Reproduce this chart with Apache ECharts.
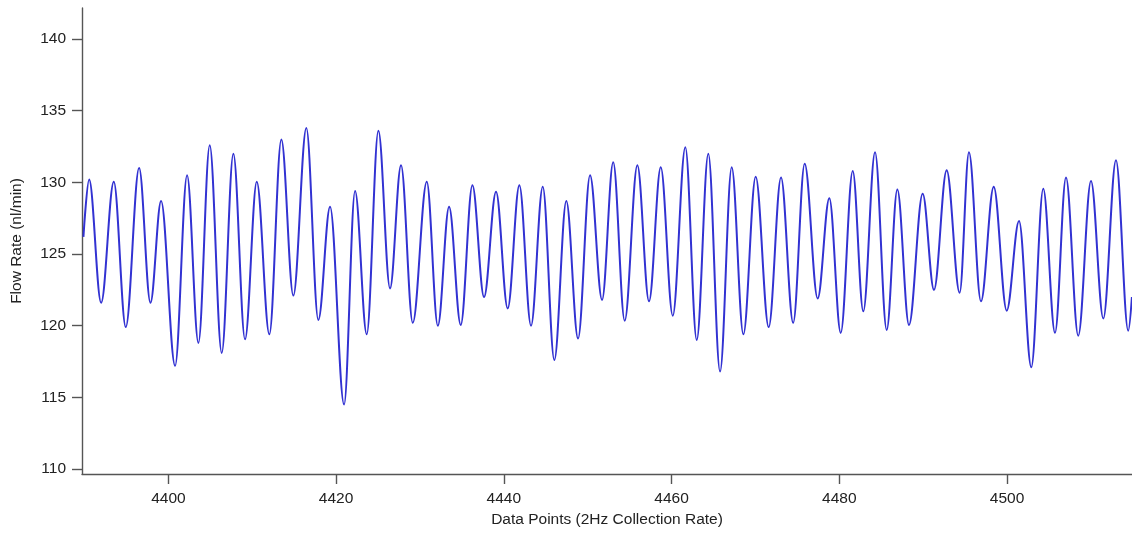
<!DOCTYPE html>
<html>
<head>
<meta charset="utf-8">
<script src="https://cdn.jsdelivr.net/npm/echarts@6/dist/echarts.min.js"></script>
<style>
html,body{margin:0;padding:0;background:#fff;}
#chart{width:1132px;height:534px;}
</style>
</head>
<body>
<div id="chart"></div>
<script>
const xTicks = [4400, 4420, 4440, 4460, 4480, 4500];
const yTicks = [110, 115, 120, 125, 130, 135, 140];
const xPoints = [4389.87, 4390.55, 4391.98, 4393.49, 4394.92, 4396.51, 4397.86, 4399.13, 4400.80, 4402.23,
  4403.58, 4404.93, 4406.36, 4407.75, 4409.14, 4410.54, 4412.04, 4413.47, 4414.90, 4416.45,
  4417.88, 4419.28, 4420.95, 4422.26, 4423.65, 4425.04, 4426.43, 4427.74, 4429.14, 4430.81,
  4432.13, 4433.47, 4434.86, 4436.25, 4437.64, 4439.07, 4440.46, 4441.85, 4443.24, 4444.64,
  4446.02, 4447.45, 4448.85, 4450.28, 4451.71, 4453.04, 4454.41, 4455.92, 4457.31, 4458.71,
  4460.14, 4461.64, 4463.00, 4464.38, 4465.78, 4467.17, 4468.56, 4470.03, 4471.58, 4473.05,
  4474.50, 4475.87, 4477.42, 4478.81, 4480.17, 4481.60, 4482.86, 4484.26, 4485.65, 4486.92,
  4488.31, 4489.94, 4491.29, 4492.80, 4494.35, 4495.46, 4496.89, 4498.41, 4499.96, 4501.43,
  4502.89, 4504.32, 4505.72, 4507.03, 4508.49, 4510.01, 4511.48, 4512.99, 4514.45, 4514.89];
const flowRate = [126.2, 130.2, 121.6, 130.05, 119.9, 131.0, 121.6, 128.7, 117.2, 130.5,
  118.8, 132.6, 118.1, 132.0, 119.05, 130.05, 119.4, 133.0, 122.1, 133.8,
  120.4, 128.3, 114.5, 129.4, 119.4, 133.6, 122.6, 131.2, 120.2, 130.05,
  120.0, 128.3, 120.05, 129.8, 122.0, 129.35, 121.2, 129.8, 120.0, 129.7,
  117.6, 128.7, 119.1, 130.5, 121.8, 131.4, 120.35, 131.2, 121.7, 131.05,
  120.7, 132.45, 119.0, 132.0, 116.8, 131.05, 119.4, 130.4, 119.9, 130.35,
  120.2, 131.3, 121.9, 128.9, 119.5, 130.8, 121.0, 132.1, 119.7, 129.5,
  120.05, 129.2, 122.5, 130.85, 122.3, 132.1, 121.7, 129.7, 121.05, 127.3,
  117.1, 129.55, 119.5, 130.35, 119.3, 130.1, 120.5, 131.55, 119.65, 122.0];

const chart = echarts.init(document.getElementById('chart'), null, {renderer: 'canvas'});
const font = '"Liberation Sans", Arial, sans-serif';
chart.setOption({
  animation: false,
  backgroundColor: '#ffffff',
  grid: {left: 82, right: 0, top: 8, bottom: 60, containLabel: false},
  xAxis: {
    type: 'value',
    min: 4389.7,
    max: 4514.9,
    name: 'Data Points (2Hz Collection Rate)',
    nameLocation: 'middle',
    nameGap: 35,
    nameTextStyle: {fontFamily: font, fontSize: 15.5, color: '#222'},
    axisLine: {show: true, onZero: false, lineStyle: {color: '#555', width: 1.4}},
    axisTick: {show: true, inside: false, length: 10, customValues: xTicks, lineStyle: {color: '#555', width: 1.4}},
    axisLabel: {show: true, margin: 17, fontFamily: font, fontSize: 15.5, color: '#222', customValues: xTicks,
      formatter: v => String(Math.round(v))},
    splitLine: {show: false}
  },
  yAxis: {
    type: 'value',
    min: 109.65,
    max: 142.17,
    name: 'Flow Rate (nl/min)',
    nameLocation: 'middle',
    nameGap: 57,
    nameRotate: 90,
    nameTextStyle: {fontFamily: font, fontSize: 15.5, color: '#222'},
    axisLine: {show: true, onZero: false, lineStyle: {color: '#555', width: 1.4}},
    axisTick: {show: true, inside: false, length: 10, customValues: yTicks, lineStyle: {color: '#555', width: 1.4}},
    axisLabel: {show: true, margin: 16, fontFamily: font, fontSize: 15.5, color: '#222', customValues: yTicks,
      formatter: v => String(Math.round(v))},
    splitLine: {show: false}
  },
  series: [{
    type: 'line',
    data: xPoints.map((x, i) => [x, flowRate[i]]),
    showSymbol: false,
    smooth: 0.35,
    smoothMonotone: 'x',
    lineStyle: {color: '#3232d2', width: 2},
    itemStyle: {color: '#3232d2'}
  }]
});
</script>
</body>
</html>
